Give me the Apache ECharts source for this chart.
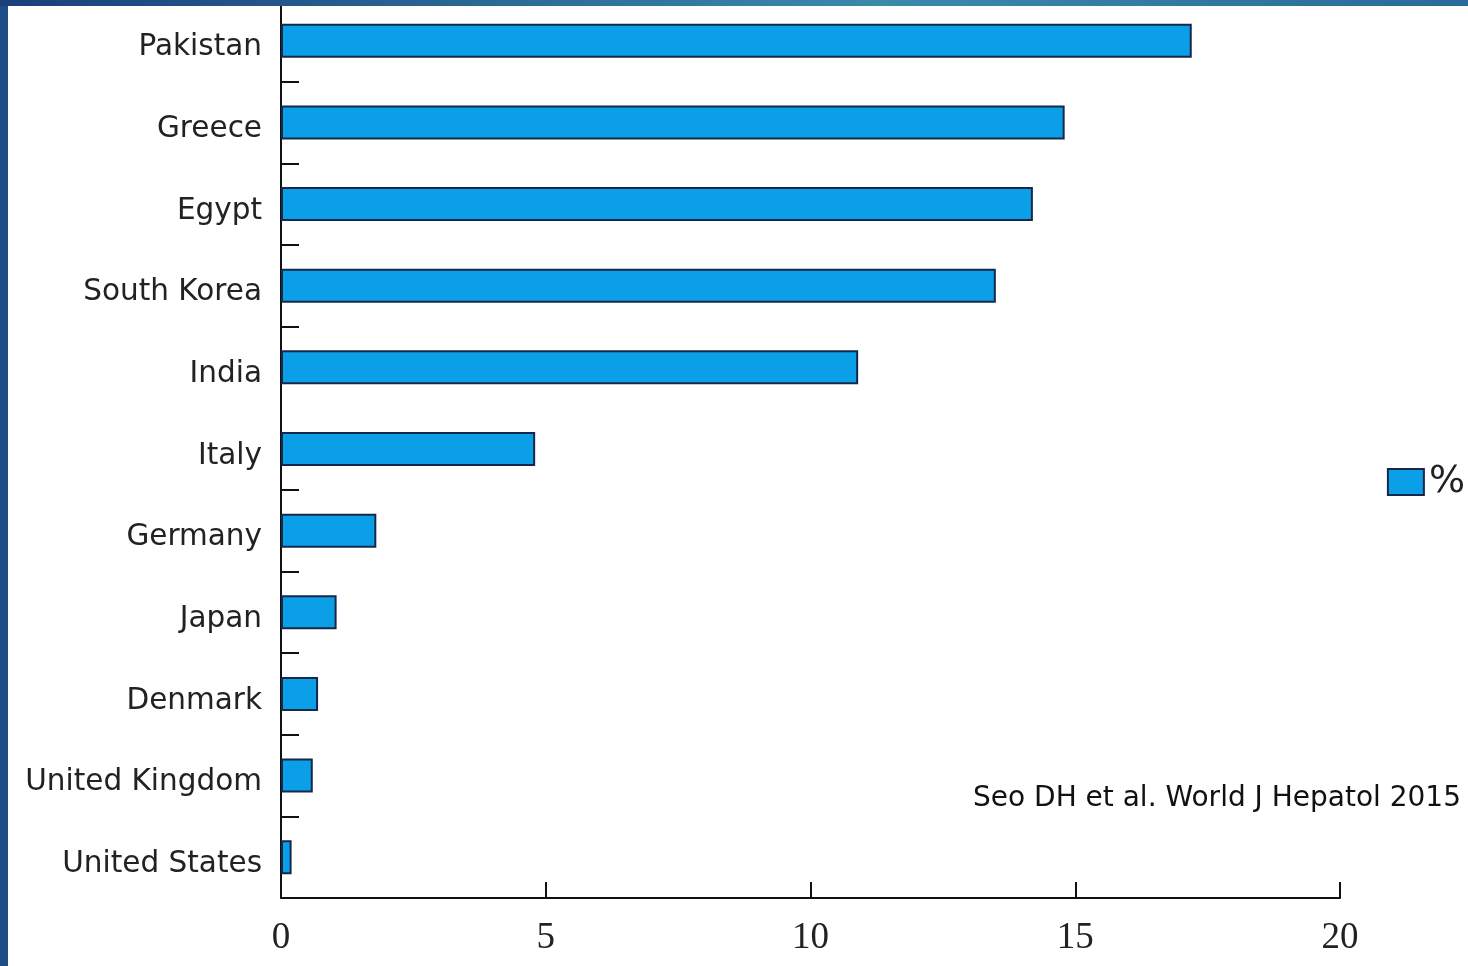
<!DOCTYPE html>
<html>
<head>
<meta charset="utf-8">
<script src="https://cdn.jsdelivr.net/npm/echarts@6/dist/echarts.min.js"></script>
<style>
html,body{margin:0;padding:0;background:#fff;}
#chart{width:1468px;height:966px;}
</style>
</head>
<body>
<div id="chart"></div>
<script>
const categories = ['Pakistan','Greece','Egypt','South Korea','India','Italy','Germany','Japan','Denmark','United Kingdom','United States'];
const values = [17.2, 14.8, 14.2, 13.5, 10.9, 4.8, 1.8, 1.05, 0.7, 0.6, 0.2];
const seriesName = '%';
const xTicks = [0, 5, 10, 15, 20];
const citation = 'Seo DH et al. World J Hepatol 2015';

const chart = echarts.init(document.getElementById('chart'));
chart.setOption({
  animation: false,
  backgroundColor: '#ffffff',
  grid: { left: 281, right: 128, top: 0, bottom: 68, containLabel: false },
  legend: {
    data: [{ name: seriesName, icon: 'rect' }],
    right: -2, top: 458,
    itemWidth: 36, itemHeight: 26, itemGap: 10,
    textStyle: { fontFamily: 'DejaVu Sans', fontSize: 38, color: '#222' }
  },
  xAxis: {
    type: 'value',
    min: xTicks[0], max: xTicks[xTicks.length - 1], interval: 5,
    axisLine: { show: true, lineStyle: { color: '#111', width: 2 } },
    axisTick: { show: true, inside: true, length: 16, lineStyle: { color: '#111', width: 2 } },
    splitLine: { show: false },
    axisLabel: { fontFamily: 'Liberation Serif', fontSize: 37, color: '#222', margin: 22 }
  },
  yAxis: {
    type: 'category',
    data: categories,
    inverse: true,
    axisLine: { show: true, lineStyle: { color: '#111', width: 2 } },
    axisTick: {
      show: true, inside: true, length: 18,
      interval: function (idx) { return idx !== 5; },
      lineStyle: { color: '#111', width: 2 }
    },
    axisLabel: {
      margin: 19,
      formatter: function (v) { return '{a|' + v + '}'; },
      rich: { a: { fontFamily: 'DejaVu Sans', fontSize: 29.5, color: '#222', padding: [14, 0, 0, 0] } }
    }
  },
  series: [{
    name: seriesName,
    type: 'bar',
    data: values,
    barWidth: 34,
    itemStyle: { color: '#0a9fe6', borderColor: '#16284a', borderWidth: 2 }
  }],
  graphic: [
    { type: 'text', right: 7, top: 785, z: 100,
      style: { text: citation, fontFamily: 'DejaVu Sans', fontSize: 28, fill: '#111' } },
    { type: 'rect', left: 0, top: 0, z: 200, shape: { width: 8, height: 966 },
      style: { fill: '#1f4d88' } },
    { type: 'rect', left: 0, top: 0, z: 200, shape: { width: 1468, height: 6 },
      style: { fill: new echarts.graphic.LinearGradient(0, 0, 1, 0, [
        { offset: 0, color: '#1a3f7a' },
        { offset: 0.6, color: '#3a8aaa' },
        { offset: 1, color: '#2a6a98' }
      ]) } }
  ]
});
</script>
</body>
</html>
